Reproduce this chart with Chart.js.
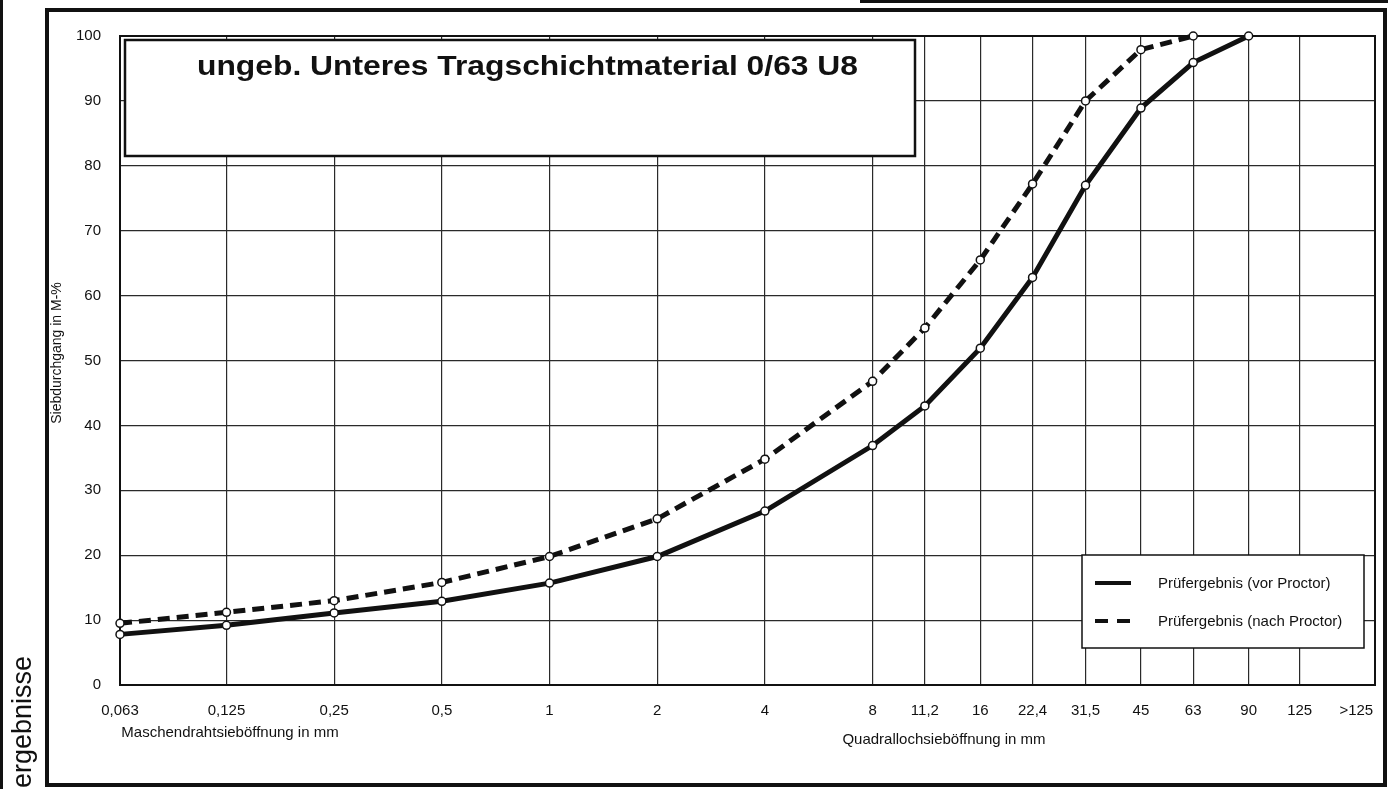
<!DOCTYPE html>
<html>
<head>
<meta charset="utf-8">
<script src="https://cdn.jsdelivr.net/npm/chart.js@4/dist/chart.umd.min.js"></script>
<style>
html,body{margin:0;padding:0;background:#fff;}
#wrap{width:1400px;height:789px;}
</style>
</head>
<body>
<div id="wrap"><canvas id="c" width="1400" height="789"></canvas></div>
<script>
// ---- data ----
const sieveSizes = [0.063, 0.125, 0.25, 0.5, 1, 2, 4, 8, 11.2, 16, 22.4, 31.5, 45, 63, 90];
const tickValues = [0.063, 0.125, 0.25, 0.5, 1, 2, 4, 8, 11.2, 16, 22.4, 31.5, 45, 63, 90, 125, 180];
const tickLabels = ['0,063','0,125','0,25','0,5','1','2','4','8','11,2','16','22,4','31,5','45','63','90','125','>125'];
const yTickStep = 10;
const vorProctor  = [7.8, 9.2, 11.1, 12.9, 15.7, 19.8, 26.8, 36.9, 43.0, 51.9, 62.8, 77.0, 88.9, 95.9, 100];
const nachProctor = [9.5, 11.2, 13.0, 15.8, 19.8, 25.6, 34.8, 46.8, 55.0, 65.5, 77.2, 90.0, 97.9, 100];
const seriesNames = ['Prüfergebnis (vor Proctor)', 'Prüfergebnis (nach Proctor)'];
const titleText = 'ungeb. Unteres Tragschichtmaterial 0/63 U8';
const yTitle = 'Siebdurchgang in M-%';
const xTitleLeft = 'Maschendrahtsieböffnung in mm';
const xTitleRight = 'Quadrallochsieböffnung in mm';
const sideText = 'ergebnisse';

const FONT = '"Liberation Sans", Arial, Helvetica, sans-serif';
const INK = '#111';

const decor = {
  id: 'decor',
  beforeDraw(chart) {
    const ctx = chart.ctx;
    ctx.save();
    ctx.fillStyle = '#fff';
    ctx.fillRect(0, 0, chart.width, chart.height);
    ctx.restore();
  },
  beforeDatasetsDraw(chart) {
    const {ctx, chartArea: a} = chart;
    ctx.save();
    // plot frame
    ctx.strokeStyle = INK;
    ctx.lineWidth = 2;
    ctx.strokeRect(a.left, a.top, a.right - a.left, a.bottom - a.top);

    // title box
    ctx.fillStyle = '#fff';
    ctx.fillRect(125, 40, 790, 116);
    ctx.lineWidth = 2.5;
    ctx.strokeRect(125, 40, 790, 116);
    ctx.fillStyle = INK;
    ctx.font = 'bold 28px ' + FONT;
    ctx.textAlign = 'left';
    ctx.textBaseline = 'alphabetic';
    const tw = ctx.measureText(titleText).width;
    ctx.save();
    ctx.translate(197, 75);
    ctx.scale(661 / tw, 1);
    ctx.fillText(titleText, 0, 0);
    ctx.restore();

    // legend box
    ctx.fillStyle = '#fff';
    ctx.fillRect(1082, 555, 282, 93);
    ctx.lineWidth = 1.5;
    ctx.strokeStyle = INK;
    ctx.strokeRect(1082, 555, 282, 93);
    ctx.lineWidth = 4;
    ctx.beginPath(); ctx.moveTo(1095, 583); ctx.lineTo(1131, 583); ctx.stroke();
    ctx.setLineDash([13, 9]);
    ctx.beginPath(); ctx.moveTo(1095, 621); ctx.lineTo(1131, 621); ctx.stroke();
    ctx.setLineDash([]);
    ctx.fillStyle = INK;
    ctx.font = '15px ' + FONT;
    ctx.textBaseline = 'middle';
    ctx.fillText(seriesNames[0], 1158, 584);
    ctx.fillText(seriesNames[1], 1158, 622);
    ctx.restore();
  },
  afterDraw(chart) {
    const ctx = chart.ctx;
    ctx.save();
    ctx.strokeStyle = INK;
    ctx.fillStyle = INK;
    // outer frame
    ctx.lineWidth = 4;
    ctx.strokeRect(47, 10, 1338, 775);
    // left strip edge
    ctx.lineWidth = 3;
    ctx.beginPath(); ctx.moveTo(1.5, 0); ctx.lineTo(1.5, 789); ctx.stroke();
    // top line of page above (right part)
    ctx.beginPath(); ctx.moveTo(860, 1.5); ctx.lineTo(1388, 1.5); ctx.stroke();

    // axis titles
    ctx.font = '15px ' + FONT;
    ctx.textAlign = 'center';
    ctx.textBaseline = 'middle';
    ctx.fillText(xTitleLeft, 230, 733);
    ctx.fillText(xTitleRight, 944, 740);

    ctx.save();
    ctx.translate(57, 353);
    ctx.rotate(-Math.PI / 2);
    ctx.font = '14px ' + FONT;
    ctx.fillText(yTitle, 0, 0);
    ctx.restore();

    ctx.save();
    ctx.translate(24, 656);
    ctx.rotate(-Math.PI / 2);
    ctx.font = '27px ' + FONT;
    ctx.textAlign = 'right';
    ctx.fillText(sideText, 0, 0);
    ctx.restore();

    ctx.restore();
  }
};

const pointStyle = {
  pointRadius: 4,
  pointBorderWidth: 1.5,
  pointBackgroundColor: '#fff',
  pointBorderColor: INK,
  pointHoverRadius: 4
};

new Chart(document.getElementById('c'), {
  type: 'line',
  data: {
    datasets: [
      Object.assign({
        label: seriesNames[0],
        data: vorProctor.map((v, i) => ({x: sieveSizes[i], y: v})),
        borderColor: INK,
        borderWidth: 5,
        tension: 0,
        clip: false
      }, pointStyle),
      Object.assign({
        label: seriesNames[1],
        data: nachProctor.map((v, i) => ({x: sieveSizes[i], y: v})),
        borderColor: INK,
        borderWidth: 5,
        borderDash: [12, 7],
        tension: 0,
        clip: false
      }, pointStyle)
    ]
  },
  options: {
    responsive: false,
    animation: false,
    devicePixelRatio: 1,
    layout: {padding: {left: 0, top: 36, right: 25, bottom: 0}},
    plugins: {legend: {display: false}, tooltip: {enabled: false}, title: {display: false}},
    scales: {
      x: {
        type: 'logarithmic',
        min: 0.063,
        max: 203,
        afterBuildTicks: s => { s.ticks = tickValues.map(v => ({value: v})); },
        afterFit: s => { s.height = 104; },
        grid: {
          color: c => (c.tick && c.tick.value > 125) ? 'rgba(0,0,0,0)' : '#2a2a2a',
          lineWidth: 1.2,
          drawTicks: false
        },
        border: {display: false},
        ticks: {
          autoSkip: false, maxRotation: 0, minRotation: 0, padding: 17,
          color: INK, font: {family: FONT, size: 15},
          callback: (v, i) => tickLabels[i]
        }
      },
      y: {
        min: 0, max: 100,
        afterFit: s => { s.width = 120; },
        grid: {color: '#2a2a2a', lineWidth: 1.2, drawTicks: false},
        border: {display: false},
        ticks: {stepSize: yTickStep, padding: 19, color: INK, font: {family: FONT, size: 15}}
      }
    }
  },
  plugins: [decor]
});
</script>
</body>
</html>
